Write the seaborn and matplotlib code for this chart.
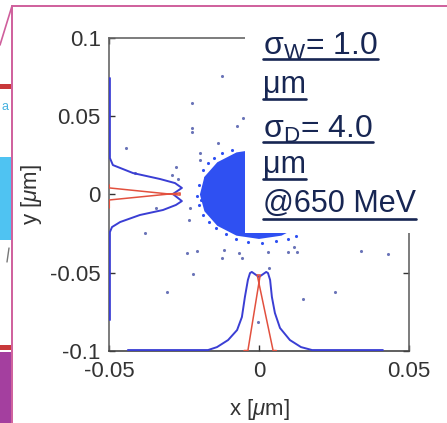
import matplotlib
matplotlib.use("Agg")
import matplotlib.pyplot as plt
import seaborn as sns
import pandas as pd
from matplotlib.patches import Rectangle
from matplotlib.lines import Line2D

# ---------------- data ----------------
x_ticks = [-0.05, 0.0, 0.05]
x_tick_labels = ["-0.05", "0", "0.05"]
y_ticks = [-0.1, -0.05, 0.0, 0.05, 0.1]
y_tick_labels = ["-0.1", "-0.05", "0", "0.05", "0.1"]

# y-projection drawn along the left edge (x = profile height, y = position)
yproj_blue_y = [0.0744, 0.0233, 0.0188, 0.0137, 0.0099, 0.0073, 0.0042, 0.0003, -0.0042, -0.0067,
                -0.0099, -0.0131, -0.0176, -0.0208, -0.0240, -0.0802]
yproj_blue_x = [-0.0497, -0.0497, -0.0487, -0.0420, -0.0330, -0.0280, -0.0257, -0.0287, -0.0257, -0.0277,
                -0.0320, -0.0397, -0.0463, -0.0490, -0.0497, -0.0497]
yproj_red_y = [0.0061, 0.0042, -0.0004, 0.0010, -0.0035, -0.0086]
yproj_red_x = [-0.0499, -0.0499, -0.0263, -0.0263, -0.0499, -0.0499]

# x-projection drawn along the bottom edge
xproj_blue_x = [-0.0437, -0.0170, -0.0140, -0.0103, -0.0073, -0.0057, -0.0047, -0.0037, -0.0030, -0.0024,
                0.0, 0.0024, 0.0030, 0.0037, 0.0043, 0.0053, 0.0070, 0.0103, 0.0140, 0.0177, 0.0413]
xproj_blue_y = [-0.0994, -0.0994, -0.0975, -0.0930, -0.0866, -0.0783, -0.0655, -0.0546, -0.0502, -0.0495,
                -0.0527, -0.0495, -0.0502, -0.0546, -0.0655, -0.0757, -0.0853, -0.0930, -0.0975, -0.0994, -0.0994]
xproj_red_x = [-0.0050, -0.0037, 0.0004, -0.0006, 0.0047, 0.0058]
xproj_red_y = [-0.0997, -0.0997, -0.0514, -0.0514, -0.0997, -0.0997]

# outline of the dense particle cloud
cloud_x = [0.0197, 0.0182, 0.0139, 0.0075, 0.0, -0.0075, -0.0139, -0.0182, -0.0197, -0.0182,
           -0.0139, -0.0075, 0.0, 0.0075, 0.0139, 0.0182]
cloud_y = [0.0, 0.0113, 0.0206, 0.0269, 0.0291, 0.0269, 0.0206, 0.0113, 0.0, -0.0107,
           -0.0200, -0.0263, -0.0284, -0.0263, -0.0200, -0.0107]

# speckled fringe of the cloud
fringe_x = [-0.0200, -0.0207, -0.0200, -0.0187, -0.0170, -0.0150, -0.0187, -0.0167, -0.0143, -0.0110,
            -0.0077, -0.0037, 0.0010, 0.0057, 0.0097, 0.0123, -0.0123, -0.0090, -0.0180, -0.0193]
fringe_y = [0.0061, -0.0010, -0.0067, 0.0157, 0.0201, 0.0233, -0.0131, -0.0176, -0.0214, -0.0252,
            -0.0284, -0.0304, -0.0310, -0.0297, -0.0284, -0.0265, 0.0265, 0.0284, 0.0105, -0.0035]

# sparse outlying particles
out_x = [-0.0123, -0.0223, -0.0223, -0.0223, -0.0053, -0.0073, -0.0137, -0.0443, -0.0413, -0.0197,
         -0.0197, -0.0277, -0.0290, -0.0270, -0.0230, -0.0233, -0.0343, -0.0380, -0.0240, -0.0207,
         -0.0117, -0.0123, -0.0067, -0.0057, 0.0030, 0.0097, 0.0127, 0.0117, -0.0220, -0.0307,
         0.0033, 0.0340, 0.0430, 0.0253, 0.0147, -0.0003]
out_y = [0.0757, 0.0585, 0.0425, 0.0399, 0.0489, 0.0438, 0.0329, 0.0297, 0.0137, 0.0265,
         0.0220, 0.0176, 0.0125, 0.0099, -0.0086, -0.0163, -0.0086, -0.0246, -0.0374, -0.0361,
         -0.0355, -0.0406, -0.0374, -0.0406, -0.0367, -0.0367, -0.0367, -0.0335, -0.0508, -0.0623,
         -0.0470, -0.0361, -0.0380, -0.0623, -0.0668, -0.0815]

annotation_lines = ["σ$_{\\mathrm{W}}$= 1.0", "μm", "σ$_{\\mathrm{D}}$= 4.0", "μm", "@650 MeV"]

# ---------------- style ----------------
sns.set_theme(style="white")
plt.rcParams['font.family'] = ['Liberation Sans', 'DejaVu Sans']
plt.rcParams['mathtext.fontset'] = 'custom'
plt.rcParams['mathtext.rm'] = 'Liberation Sans'
plt.rcParams['mathtext.it'] = 'Liberation Sans:italic'
plt.rcParams['mathtext.bf'] = 'Liberation Sans:bold'

W, H = 447, 423
def fx(px):
    return px / W
def fy(py):
    return 1 - py / H

fig = plt.figure(figsize=(W / 100, H / 100), dpi=100)
fig.patch.set_facecolor("white")
ax = fig.add_axes([fx(109), fy(351), 300 / W, 313 / H])
ax.set_facecolor("white")

BLUE_CLOUD = "#2f50f2"
BLUE_LINE = "#3a3ed4"
RED_LINE = "#e2503e"

ax.fill(cloud_x, cloud_y, color=BLUE_CLOUD, lw=0, zorder=2)
sns.scatterplot(x=fringe_x, y=fringe_y, color=BLUE_CLOUD, s=5, linewidth=0, ax=ax, zorder=2)
sns.scatterplot(x=out_x, y=out_y, color="#6a74b8", s=5, linewidth=0, ax=ax, zorder=3)

sns.lineplot(x=yproj_blue_x, y=yproj_blue_y, sort=False, estimator=None, color=BLUE_LINE, lw=1.4, ax=ax, zorder=4)
sns.lineplot(x=xproj_blue_x, y=xproj_blue_y, sort=False, estimator=None, color=BLUE_LINE, lw=1.4, ax=ax, zorder=4)
sns.lineplot(x=yproj_red_x, y=yproj_red_y, sort=False, estimator=None, color=RED_LINE, lw=1.1, ax=ax, zorder=5)
sns.lineplot(x=xproj_red_x, y=xproj_red_y, sort=False, estimator=None, color=RED_LINE, lw=1.1, ax=ax, zorder=5)

ax.set_xlim(-0.05, 0.05)
ax.set_ylim(-0.1, 0.1)
ax.set_xticks(x_ticks)
ax.set_xticklabels(x_tick_labels)
ax.set_yticks(y_ticks)
ax.set_yticklabels(y_tick_labels)
ax.tick_params(direction="in", length=4, width=1.0, color="#333333", labelcolor="#333333",
               labelsize=16, top=True, right=True, bottom=True, left=True)
ax.tick_params(axis="x", pad=7)
ax.tick_params(axis="y", pad=6)
for side in ["left", "right", "top", "bottom"]:
    ax.spines[side].set_visible(True)
    ax.spines[side].set_color("#666666")
    ax.spines[side].set_linewidth(1.2)
ax.spines["bottom"].set_color("#444444")

ax.set_xlabel("x [$\\mu$m]", fontsize=16, color="#333333")
ax.set_ylabel("y [$\\mu$m]", fontsize=16, color="#333333")
ax.xaxis.set_label_coords(0.5, -0.148)
ax.yaxis.set_label_coords(-0.215, 0.5)

# white annotation box covering the upper-right part of the plot
fig.patches.append(Rectangle((fx(245), fy(233)), fx(447) - fx(245), fy(8) - fy(233),
                             transform=fig.transFigure, facecolor="white", edgecolor="none", zorder=5))

# slide fragments at the left edge
def frag(y0, y1, color, x0=0, x1=11):
    fig.patches.append(Rectangle((fx(x0), fy(y1)), fx(x1) - fx(x0), fy(y0) - fy(y1),
                                 transform=fig.transFigure, facecolor=color, edgecolor="none", zorder=6))
frag(84, 89, "#c8383a")
frag(157, 240, "#4fc3f2")
frag(345, 350, "#c8383a")
frag(352, 423, "#a43f9f")
fig.text(fx(1), fy(110), "a", fontsize=9, color="#46b2e0", zorder=7)
fig.add_artist(Line2D([fx(7), fx(9)], [fy(262), fy(248)], color="#777777", lw=1, zorder=7))

# pink frame
PINK = "#cf5f9c"
fig.add_artist(Line2D([fx(12), fx(447)], [fy(6), fy(6)], color=PINK, lw=1.4, zorder=8))
fig.add_artist(Line2D([fx(12), fx(12)], [fy(6), fy(423)], color=PINK, lw=1.4, zorder=8))
fig.add_artist(Line2D([fx(12), fx(0)], [fy(6), fy(45)], color=PINK, lw=1.2, zorder=8))

# annotation text with underlines
NAVY = "#172653"
baselines = [55, 93, 138, 173, 212]
underlines = [59, 99, 142, 179, 219]
sizes = [23, 22, 23, 22, 22]
texts = []
for line, b, fs in zip(annotation_lines, baselines, sizes):
    texts.append(fig.text(fx(263), fy(b), line, fontsize=fs, color=NAVY, va="baseline", ha="left", zorder=9))
fig.canvas.draw()
renderer = fig.canvas.get_renderer()
for t, u in zip(texts, underlines):
    bb = t.get_window_extent(renderer)
    fig.add_artist(Line2D([bb.x0 / W, bb.x1 / W], [fy(u), fy(u)], color=NAVY, lw=1.9, zorder=9))

fig.savefig("out.png", dpi=100, facecolor="white")
